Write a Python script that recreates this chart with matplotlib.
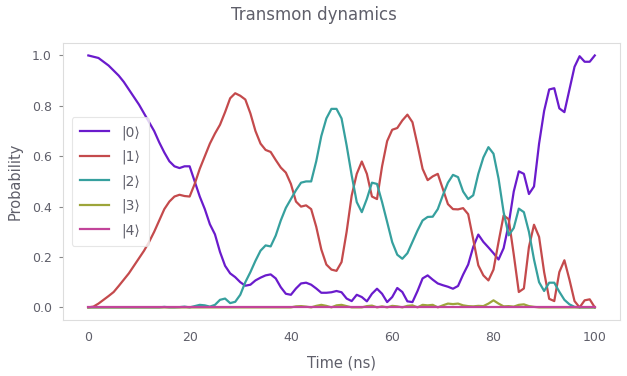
import numpy as np
import matplotlib
matplotlib.use("Agg")
import matplotlib.pyplot as plt

time_ns = list(range(0, 101))

p0 = [1.00, 0.995, 0.99, 0.975, 0.96, 0.94, 0.92, 0.895, 0.865, 0.835,
      0.805, 0.77, 0.735, 0.70, 0.655, 0.615, 0.58, 0.56, 0.553, 0.56,
      0.56, 0.50, 0.44, 0.39, 0.33, 0.29, 0.22, 0.165, 0.135, 0.12,
      0.10, 0.086, 0.09, 0.107, 0.118, 0.127, 0.131, 0.115, 0.08, 0.054,
      0.05, 0.075, 0.095, 0.098, 0.09, 0.075, 0.058, 0.058, 0.06, 0.065,
      0.06, 0.035, 0.025, 0.05, 0.041, 0.024, 0.054, 0.074, 0.054, 0.021,
      0.041, 0.077, 0.061, 0.024, 0.021, 0.065, 0.115, 0.127, 0.11, 0.095,
      0.088, 0.082, 0.074, 0.085, 0.13, 0.17, 0.24, 0.289, 0.26, 0.238,
      0.215, 0.19, 0.235, 0.33, 0.46, 0.54, 0.53, 0.45, 0.48, 0.65,
      0.78, 0.865, 0.87, 0.79, 0.775, 0.865, 0.955, 0.997, 0.975, 0.975,
      1.0]

p1 = [0.0, 0.003, 0.015, 0.03, 0.045, 0.061, 0.085, 0.11, 0.135, 0.165,
      0.195, 0.225, 0.26, 0.30, 0.345, 0.39, 0.42, 0.44, 0.447, 0.442,
      0.44, 0.49, 0.55, 0.60, 0.65, 0.69, 0.725, 0.775, 0.83, 0.85,
      0.84, 0.825, 0.77, 0.70, 0.65, 0.625, 0.617, 0.585, 0.555, 0.535,
      0.49, 0.42, 0.40, 0.405, 0.39, 0.32, 0.23, 0.17, 0.15, 0.145,
      0.18, 0.30, 0.444, 0.53, 0.579, 0.53, 0.44, 0.43, 0.56, 0.66,
      0.705, 0.712, 0.742, 0.765, 0.735, 0.645, 0.55, 0.505, 0.52, 0.53,
      0.47, 0.41, 0.39, 0.389, 0.394, 0.37, 0.27, 0.167, 0.127, 0.107,
      0.15, 0.26, 0.365, 0.35, 0.21, 0.061, 0.075, 0.24, 0.328, 0.28,
      0.14, 0.034, 0.025, 0.14, 0.187, 0.11, 0.025, 0.0, 0.028, 0.032,
      0.0]

p2 = [0.0, 0.0, 0.0, 0.0, 0.0, 0.0, 0.0, 0.0, 0.0, 0.0,
      0.0, 0.0, 0.0, 0.0, 0.0, 0.002, 0.0, 0.0, 0.001, 0.003,
      0.0, 0.005, 0.01, 0.008, 0.003, 0.01, 0.03, 0.035, 0.017, 0.022,
      0.05, 0.10, 0.14, 0.185, 0.225, 0.246, 0.242, 0.285, 0.345, 0.395,
      0.43, 0.465, 0.495, 0.50, 0.50, 0.58, 0.68, 0.75, 0.788, 0.788,
      0.75, 0.643, 0.524, 0.418, 0.378, 0.431, 0.495, 0.49, 0.418, 0.339,
      0.259, 0.209, 0.193, 0.215, 0.26, 0.305, 0.345, 0.359, 0.36, 0.39,
      0.445, 0.495, 0.526, 0.517, 0.46, 0.43, 0.445, 0.53, 0.595, 0.636,
      0.61, 0.511, 0.378, 0.286, 0.315, 0.392, 0.378, 0.30, 0.19, 0.10,
      0.065, 0.098, 0.098, 0.062, 0.03, 0.012, 0.002, 0.0, 0.0, 0.0,
      0.0]

p3 = [0.0] * 41 + [
      0.004, 0.005, 0.003, 0.0, 0.006, 0.01, 0.006, 0.0, 0.008, 0.01,
      0.005, 0.0, 0.0, 0.0, 0.005, 0.007, 0.0, 0.004, 0.0, 0.006,
      0.004, 0.0, 0.006, 0.008, 0.0, 0.01, 0.008, 0.01, 0.0, 0.008,
      0.015, 0.013, 0.015, 0.008, 0.005, 0.004, 0.006, 0.005, 0.015, 0.028,
      0.015, 0.004, 0.005, 0.003, 0.01, 0.012, 0.005, 0.002, 0.0, 0.0,
      0.0, 0.0, 0.0, 0.0, 0.0, 0.0, 0.0, 0.0, 0.0, 0.0]

p4 = [0.0] * 101

labels = ["|0⟩", "|1⟩", "|2⟩", "|3⟩", "|4⟩"]
colors = ["#6a1bcc", "#c44a4c", "#36a09e", "#9da53a", "#c2449a"]

text_color = "#5f5f6a"
plt.rcParams['font.family'] = ['DejaVu Sans']

fig = plt.figure(figsize=(6.27, 3.76), dpi=100)
ax = fig.add_axes([0.1005, 0.149, 0.8885, 0.737])

for series, lab, col in zip([p0, p1, p2, p3, p4], labels, colors):
    ax.plot(time_ns, series, color=col, lw=1.6, label=lab)

ax.set_xlim(-5, 105)
ax.set_ylim(-0.05, 1.05)
ax.set_xticks([0, 20, 40, 60, 80, 100])
ax.set_yticks([0.0, 0.2, 0.4, 0.6, 0.8, 1.0])
ax.set_yticklabels(["0.0", "0.2", "0.4", "0.6", "0.8", "1.0"])

for s in ax.spines.values():
    s.set_color("#dddddd")
    s.set_linewidth(0.8)
ax.tick_params(axis='both', colors="#888888", labelcolor=text_color,
               labelsize=9, length=3, width=0.8, pad=5)
ax.tick_params(axis='x', length=0, pad=8)

ax.set_xlabel("Time (ns)", color=text_color, fontsize=10.5, labelpad=8)
ax.set_ylabel("Probability", color=text_color, fontsize=10.5, labelpad=7)
fig.suptitle("Transmon dynamics", color=text_color, fontsize=12, y=0.985)

leg = ax.legend(loc="center left", fontsize=10, frameon=True,
                handlelength=2.1, handletextpad=0.9, labelspacing=0.72,
                borderpad=0.6, bbox_to_anchor=(0.003, 0.5))
leg.get_frame().set_edgecolor("#e0e0e0")
leg.get_frame().set_linewidth(0.8)
for t in leg.get_texts():
    t.set_color(text_color)

fig.savefig("out.png", dpi=100)
